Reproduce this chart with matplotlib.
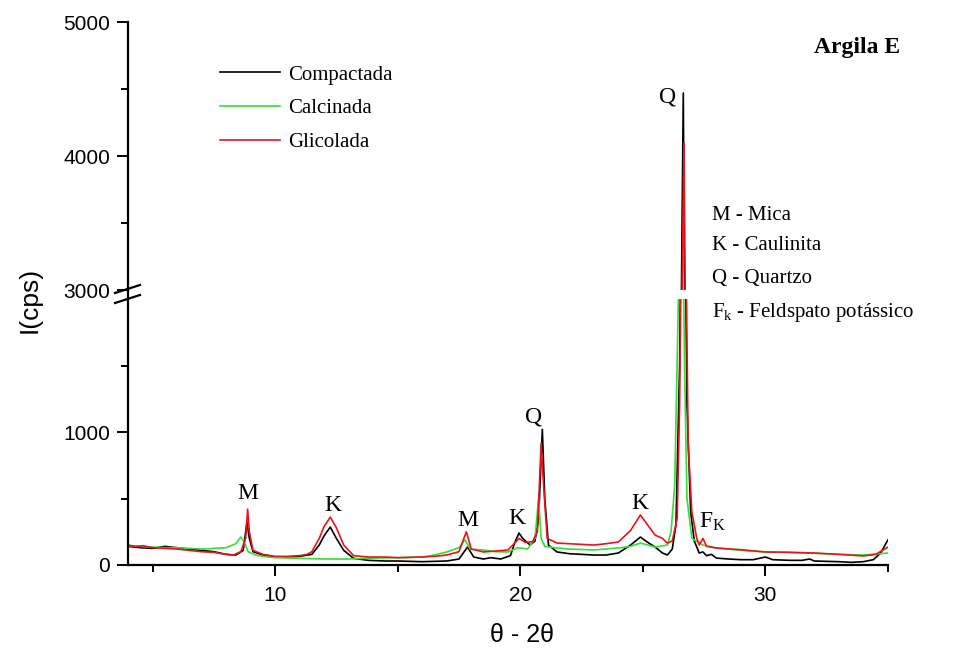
import matplotlib
matplotlib.use("Agg")
import matplotlib.pyplot as plt
from matplotlib.lines import Line2D

plt.rcParams['mathtext.fontset'] = 'custom'
plt.rcParams['mathtext.rm'] = 'Liberation Serif'
plt.rcParams['mathtext.it'] = 'Liberation Serif:italic'

# ---- data ----
comp_x = [4.0, 4.5, 5.0, 5.5, 6.0, 6.5, 7.0, 7.5, 8.0, 8.4, 8.7, 8.85, 8.95, 9.1, 9.5, 10.0,
          10.5, 11.0, 11.5, 11.8, 12.0, 12.25, 12.5, 12.8, 13.2, 13.8, 14.5, 15.0, 16.0, 17.0,
          17.5, 17.85, 18.1, 18.5, 18.8, 19.2, 19.6, 19.8, 19.95, 20.1, 20.4, 20.6, 20.75, 20.9,
          21.0, 21.15, 21.5, 22.0, 22.5, 23.0, 23.5, 24.0, 24.5, 24.9, 25.2, 25.5, 25.8, 26.0,
          26.2, 26.35, 26.5, 26.6, 26.65, 26.7, 26.8, 26.95, 27.1, 27.3, 27.45, 27.6, 27.8,
          28.0, 28.5, 29.0, 29.5, 30.0, 30.3, 31.0, 31.5, 31.8, 32.0, 33.0, 33.5, 34.0, 34.4,
          34.7, 35.0]
comp_y = [140, 130, 125, 140, 130, 120, 110, 100, 80, 75, 110, 320, 200, 100, 75, 60,
          60, 65, 80, 150, 220, 285, 200, 110, 50, 35, 30, 30, 25, 30,
          45, 135, 60, 45, 55, 45, 70, 180, 240, 200, 150, 180, 350, 1020,
          500, 150, 98, 85, 80, 75, 75, 90, 150, 210, 170, 135, 90, 75,
          120, 300, 1500, 3500, 4470, 3000, 1200, 400, 180, 90, 98, 70, 80,
          52, 45, 40, 40, 60, 40, 35, 35, 45, 30, 25, 20, 25, 40,
          90, 190]

calc_x = [4.0, 4.5, 5.0, 5.5, 6.0, 6.5, 7.0, 7.5, 8.0, 8.4, 8.6, 8.75, 8.9, 9.2, 9.5, 10.0,
          11.0, 12.0, 13.0, 14.0, 15.0, 16.0, 16.5, 17.0, 17.5, 17.75, 17.95, 18.5, 19.0,
          19.5, 19.9, 20.3, 20.6, 20.75, 20.85, 21.0, 21.5, 22.0, 23.0, 24.0, 24.5, 24.9,
          25.5, 26.0, 26.15, 26.3, 26.45, 26.55, 26.62, 26.7, 26.8, 27.0, 27.45, 28.0, 29.0,
          30.0, 31.0, 32.0, 33.0, 34.0, 35.0]
calc_y = [145, 140, 135, 130, 130, 125, 120, 125, 130, 160, 210, 170, 100, 75, 65, 55,
          50, 45, 45, 52, 55, 60, 75, 98, 130, 190, 120, 113, 100,
          98, 130, 120, 200, 505, 200, 140, 128, 120, 113, 128, 140, 165,
          135, 150, 250, 600, 2000, 2900, 2900, 1500, 500, 200, 150, 128, 110,
          98, 95, 88, 80, 75, 90]

glic_x = [4.0, 4.3, 4.6, 5.0, 5.5, 6.0, 6.5, 7.0, 7.5, 8.0, 8.3, 8.6, 8.8, 8.88, 8.95, 9.1,
          9.5, 10.0, 10.5, 11.0, 11.3, 11.5, 11.8, 12.0, 12.25, 12.5, 12.8, 13.2, 13.8, 14.5,
          15.0, 16.0, 16.5, 17.0, 17.5, 17.8, 18.0, 18.5, 19.0, 19.5, 19.8, 19.95, 20.2, 20.5,
          20.7, 20.85, 20.95, 21.1, 21.5, 22.0, 22.5, 23.0, 23.5, 24.0, 24.5, 24.9, 25.2,
          25.5, 25.8, 26.0, 26.2, 26.4, 26.5, 26.6, 26.68, 26.75, 26.85, 27.0, 27.2, 27.3,
          27.45, 27.6, 28.0, 29.0, 30.0, 31.0, 32.0, 33.0, 34.0, 34.5, 35.0]
glic_y = [150, 140, 145, 130, 125, 120, 110, 100, 95, 80, 75, 100, 200, 420, 250, 110,
          80, 65, 65, 70, 80, 100, 200, 290, 360, 280, 150, 70, 60, 60,
          55, 60, 65, 75, 100, 250, 120, 98, 105, 113, 170, 200, 170, 175,
          250, 915, 600, 200, 165, 160, 155, 150, 160, 173, 260, 376, 300,
          225, 200, 165, 180, 350, 1200, 3000, 4100, 2500, 900, 400, 200, 150,
          200, 140, 128, 115, 98, 95, 90, 80, 68, 80, 135]

series_names = ["Compactada", "Calcinada", "Glicolada"]
series_colors = ["#000000", "#33e033", "#e8141c"]

x_ticks = [10, 20, 30]
x_minor = [5, 15, 25, 35]
lo_ticks = [0, 1000]
lo_minor = [500, 1500]
hi_ticks = [3000, 4000, 5000]
hi_minor = [3500, 4500]

peak_labels = [("M", 8.9, 541), ("K", 12.37, 451), ("M", 17.84, 338), ("K", 19.88, 353),
               ("Q", 20.53, 1113), ("K", 24.86, 466)]
key_lines = ["M - Mica", "K - Caulinita", "Q - Quartzo", "F$_{\\mathrm{k}}$ - Feldspato potássico"]

# ---- figure ----
W, H = 967, 655
fig = plt.figure(figsize=(W / 100, H / 100), dpi=100)

def fx(px):
    return px / W

def fy(py):
    return 1 - py / H

L, R = 128, 888
ax_lo = fig.add_axes([fx(L), fy(565), (R - L) / W, (565 - 299) / H])
ax_hi = fig.add_axes([fx(L), fy(290), (R - L) / W, (290 - 22) / H])

data = [(comp_x, comp_y), (calc_x, calc_y), (glic_x, glic_y)]
for ax in (ax_lo, ax_hi):
    for (xs, ys), name, col in zip(data, series_names, series_colors):
        ax.plot(xs, ys, color=col, lw=1.2, label=name)
    ax.set_xlim(4, 35)
    ax.spines['top'].set_visible(False)
    ax.spines['right'].set_visible(False)
    ax.spines['left'].set_linewidth(1.6)
    ax.spines['bottom'].set_linewidth(1.6)
    ax.tick_params(which='major', length=8, width=1.4, labelsize=15, pad=5)
    ax.tick_params(which='minor', length=5, width=1.4)

ax_lo.set_ylim(0, 2000)
ax_lo.set_yticks(lo_ticks)
ax_lo.set_yticks(lo_minor, minor=True)
ax_lo.set_xticks(x_ticks)
ax_lo.set_xticks(x_minor, minor=True)
ax_lo.tick_params(axis='x', which='major', pad=7)

ax_hi.set_ylim(3000, 5000)
ax_hi.set_yticks(hi_ticks)
ax_hi.set_yticks(hi_minor, minor=True)
ax_hi.spines['bottom'].set_visible(False)
ax_hi.tick_params(axis='x', which='both', bottom=False, labelbottom=False)

for ax in (ax_lo, ax_hi):
    for lab in ax.get_xticklabels() + ax.get_yticklabels():
        lab.set_fontfamily('Liberation Sans')

# axis break marks
fig.add_artist(Line2D([fx(L), fx(L)], [fy(290), fy(299)], color='black', lw=1.6))
fig.add_artist(Line2D([fx(115), fx(140)], [fy(293), fy(285)], color='black', lw=1.6))
fig.add_artist(Line2D([fx(115), fx(140)], [fy(303), fy(295)], color='black', lw=1.6))

# axis labels
fig.text(fx(30), fy(300), "I(cps)", rotation=90, ha='center', va='center',
         fontsize=19, family='Liberation Sans')
fig.text(fx(522), fy(635), "θ - 2θ", ha='center', va='center',
         fontsize=18, family='Liberation Sans')

# legend
leg = ax_hi.legend(loc='upper left', bbox_to_anchor=(fx(220), fy(65)),
                   bbox_transform=fig.transFigure, frameon=False,
                   prop={'family': 'Liberation Serif', 'size': 15},
                   handlelength=2.9, handletextpad=0.35, labelspacing=0.68,
                   borderpad=0, borderaxespad=0)

# peak labels
serif = {'family': 'Liberation Serif', 'size': 17}
for txt, xv, yv in peak_labels:
    ax_lo.text(xv, yv, txt, ha='center', va='center', **serif)
ax_lo.text(27.84, 323, "F$_{\\mathrm{K}}$", ha='center', va='center', **serif)
ax_hi.text(26.0, 4440, "Q", ha='center', va='center', **serif)

fig.text(fx(900), fy(47), "Argila E", ha='right', va='center', fontsize=17,
         fontweight='bold', family='Liberation Serif')

for i, t in enumerate(key_lines):
    fig.text(fx(712), fy([215, 246, 278, 313][i]), t, ha='left', va='center',
             fontsize=15, family='Liberation Serif')

fig.savefig("out.png", dpi=100)
